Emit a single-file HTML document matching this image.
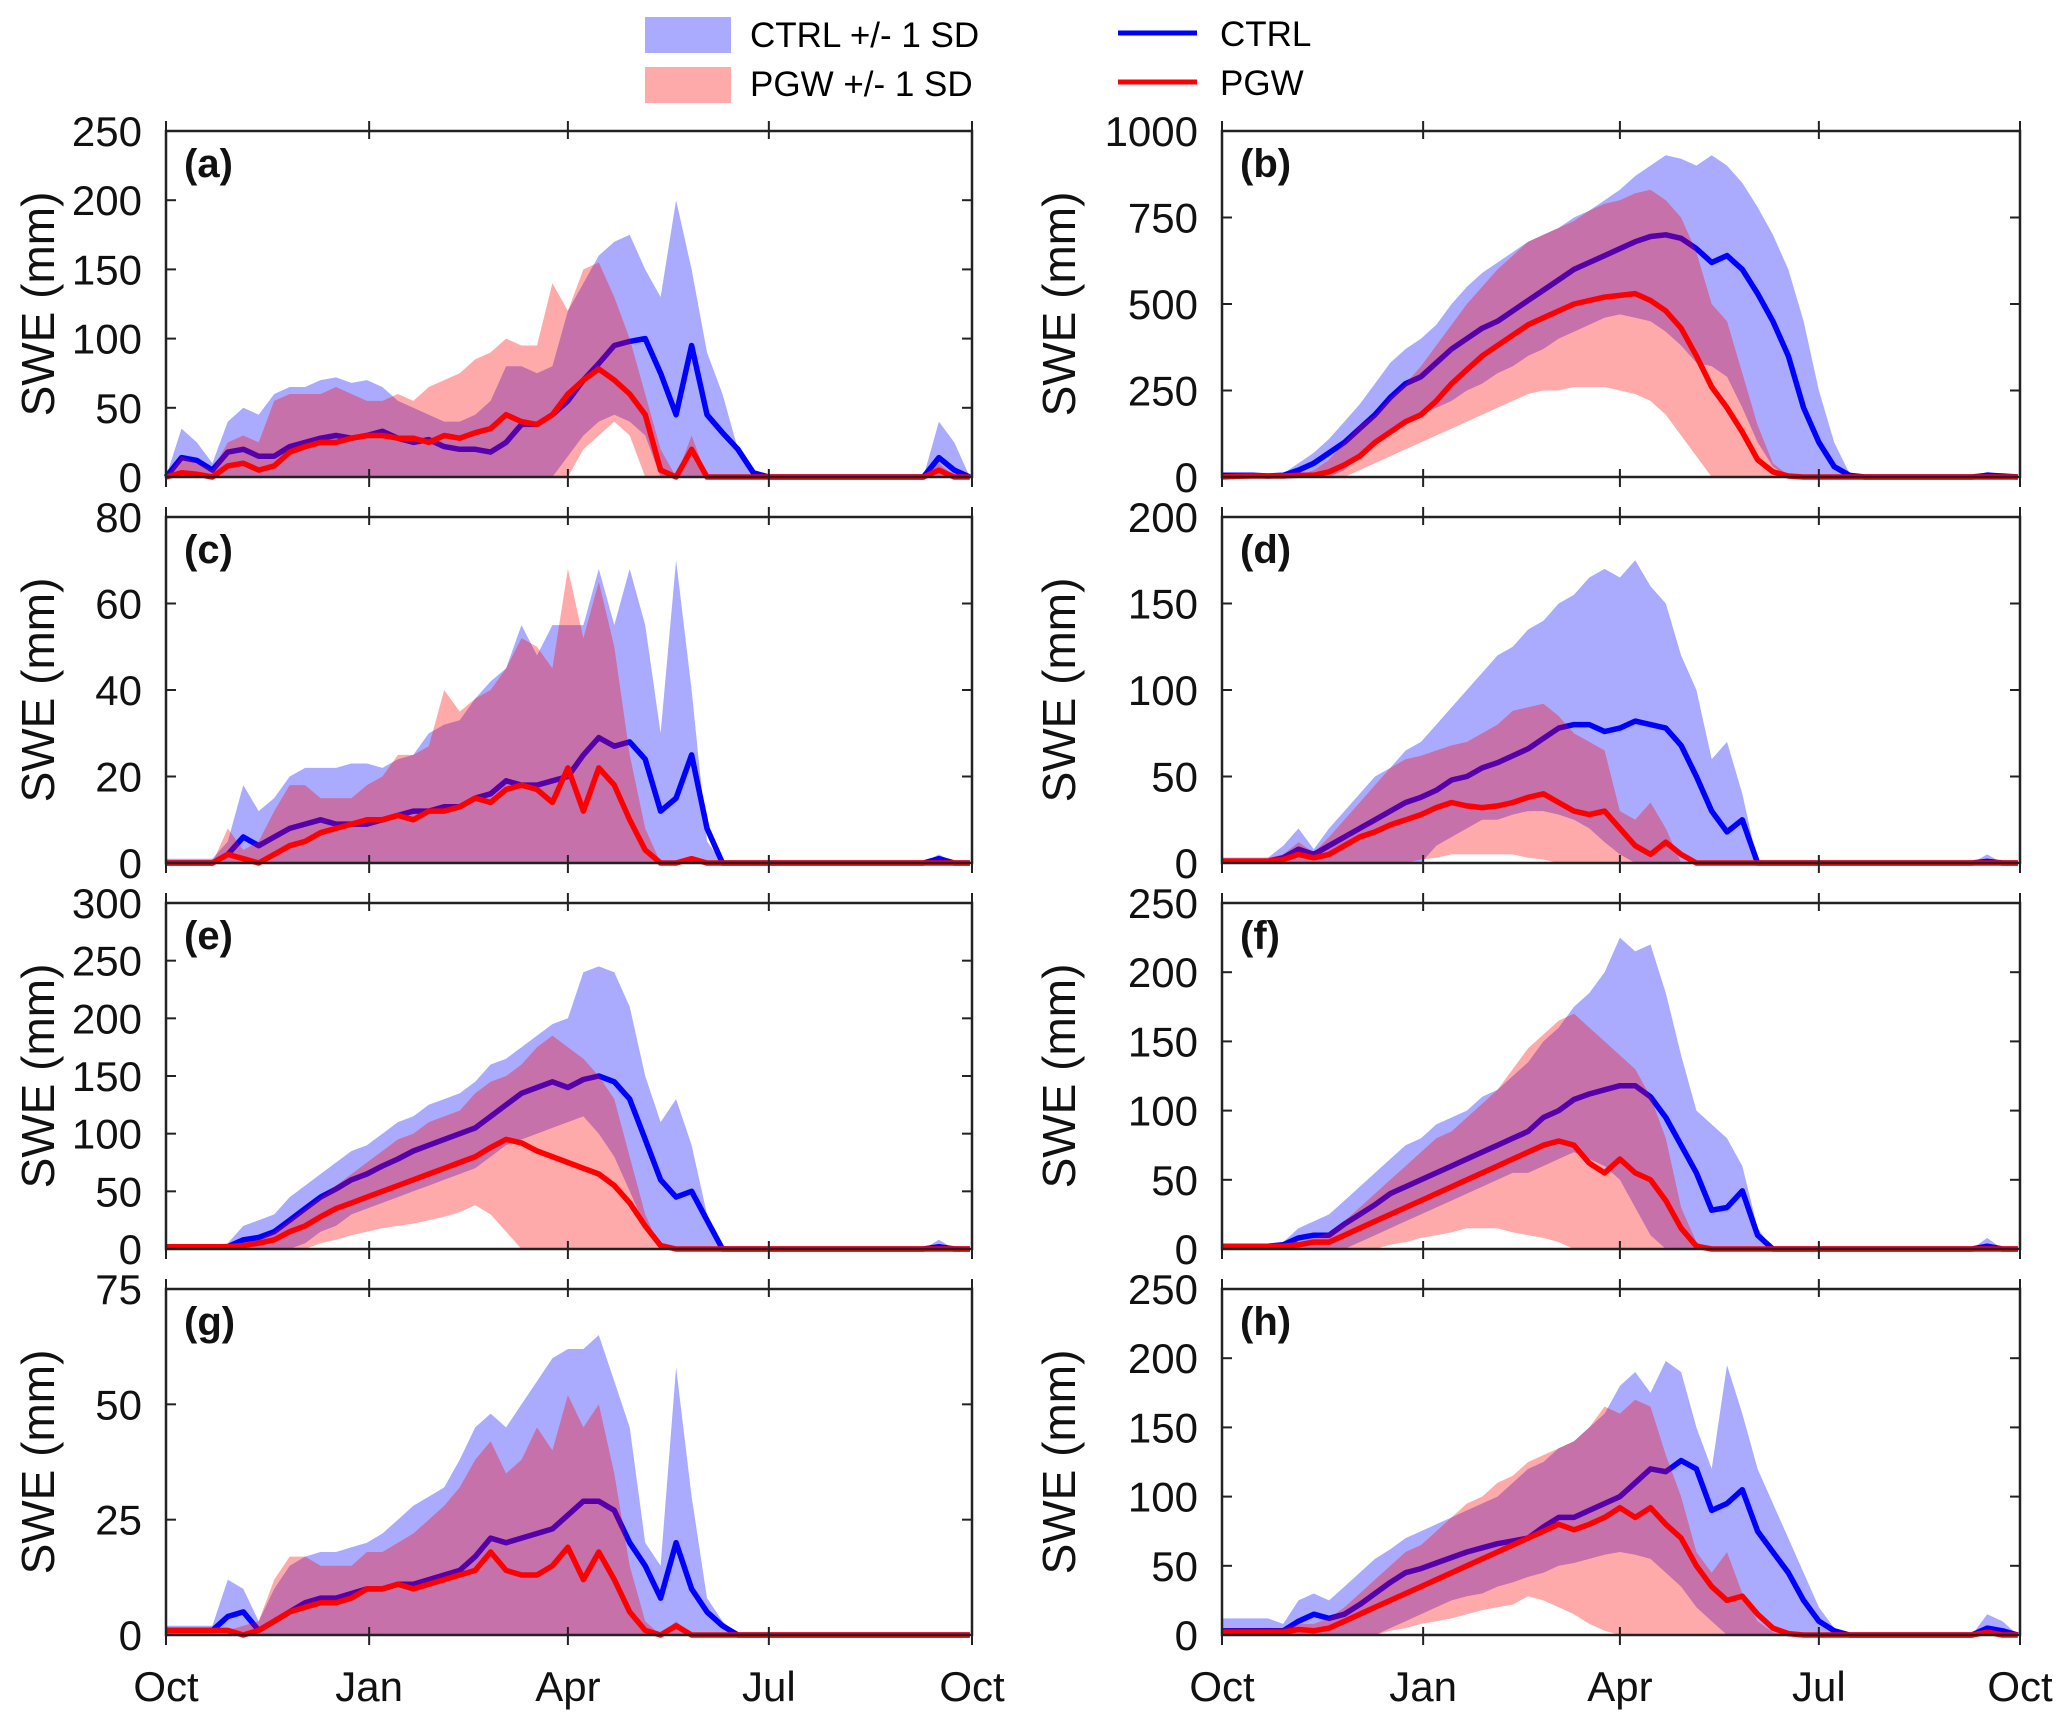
<!DOCTYPE html>
<html><head><meta charset="utf-8"><title>SWE CTRL vs PGW</title>
<style>
html,body{margin:0;padding:0;background:#fff;}
svg{display:block;font-family:"Liberation Sans",Arial,sans-serif;}
</style></head>
<body>
<svg id="chart" width="2067" height="1727" viewBox="0 0 2067 1727" xmlns="http://www.w3.org/2000/svg">
<g>
<rect x="645" y="17" width="86" height="36" fill="#0000ff" fill-opacity="0.333"/>
<text x="750" y="47" font-size="35">CTRL +/- 1 SD</text>
<rect x="645" y="67" width="86" height="36" fill="#ff0000" fill-opacity="0.333"/>
<text x="750" y="96" font-size="35">PGW +/- 1 SD</text>
<line x1="1118" y1="33" x2="1197" y2="33" stroke="#0000ff" stroke-width="5"/>
<text x="1220" y="46" font-size="35">CTRL</text>
<line x1="1118" y1="82" x2="1197" y2="82" stroke="#ff0000" stroke-width="5"/>
<text x="1220" y="95" font-size="35">PGW</text>
</g>
</svg>
<script>
// day-of-water-year for each sample (weekly)
const days = [0,7,14,21,28,35,42,49,56,63,70,77,84,91,98,105,112,119,126,133,140,147,154,161,168,175,182,189,196,203,210,217,224,231,238,245,252,259,266,273,280,287,294,301,308,315,322,329,336,343,350,357,364];
const monthLabels = ["Oct","Jan","Apr","Jul","Oct"];
const monthDays = [0,92,182,273,365];
const panelLabels = ["(a)","(b)","(c)","(d)","(e)","(f)","(g)","(h)"];
const yTicksA = [0,50,100,150,200,250];
const yTicksB = [0,250,500,750,1000];
const yTicksC = [0,20,40,60,80];
const yTicksD = [0,50,100,150,200];
const yTicksE = [0,50,100,150,200,250,300];
const yTicksF = [0,50,100,150,200,250];
const yTicksG = [0,25,50,75];
const yTicksH = [0,50,100,150,200,250];

// (a)
const ctrlMeanA = [0,14,12,5,18,20,15,15,22,25,28,30,28,30,33,28,25,27,22,20,20,18,25,38,38,45,55,70,82,95,98,100,75,45,95,45,32,20,3,0,0,0,0,0,0,0,0,0,0,0,14,5,0];
const ctrlUpA = [0,35,25,10,40,50,45,60,65,65,70,72,68,70,65,55,50,45,40,40,45,55,80,80,75,80,120,140,160,170,175,150,130,200,150,90,60,20,0,0,0,0,0,0,0,0,0,0,0,0,40,25,0];
const ctrlLoA = [0,0,0,0,0,0,0,0,0,0,0,0,0,0,0,0,0,0,0,0,0,0,0,0,0,0,15,30,40,45,40,30,0,0,0,0,0,0,0,0,0,0,0,0,0,0,0,0,0,0,0,0,0];
const pgwMeanA = [0,3,2,0,8,10,5,8,18,22,25,25,28,30,30,28,28,25,30,28,32,35,45,40,38,45,60,70,78,70,60,45,5,0,20,0,0,0,0,0,0,0,0,0,0,0,0,0,0,0,5,0,0];
const pgwUpA = [0,15,10,5,25,30,25,55,60,60,60,65,60,55,55,60,55,65,70,75,85,90,100,95,95,140,120,150,155,130,100,60,20,0,30,0,0,0,0,0,0,0,0,0,0,0,0,0,0,0,10,0,0];
const pgwLoA = [0,0,0,0,0,0,0,0,0,0,0,0,0,0,0,0,0,0,0,0,0,0,0,0,0,0,0,20,30,40,30,0,0,0,0,0,0,0,0,0,0,0,0,0,0,0,0,0,0,0,0,0,0];
// (b)
const ctrlMeanB = [5,5,5,3,5,20,40,70,100,140,180,230,270,290,330,370,400,430,450,480,510,540,570,600,620,640,660,680,695,700,690,660,620,640,600,530,450,350,200,100,30,5,0,0,0,0,0,0,0,0,5,3,0];
const ctrlUpB = [10,10,10,10,10,40,70,110,160,210,270,330,370,400,440,500,550,590,620,650,680,700,720,750,770,800,830,870,900,930,920,900,930,900,850,780,700,600,450,250,100,10,0,0,0,0,0,0,0,0,15,8,0];
const ctrlLoB = [0,0,0,0,0,0,0,0,20,60,100,130,150,180,200,220,250,270,300,320,350,370,400,420,440,460,470,460,450,420,380,330,320,290,200,100,30,0,0,0,0,0,0,0,0,0,0,0,0,0,0,0,0];
const pgwMeanB = [0,2,3,3,3,5,5,15,35,60,100,130,160,180,220,270,310,350,380,410,440,460,480,500,510,520,525,530,510,480,430,350,260,200,130,50,15,3,0,0,0,0,0,0,0,0,0,0,0,0,0,0,0];
const pgwUpB = [5,5,5,5,5,5,20,50,100,150,180,230,270,320,380,440,500,550,600,640,680,700,720,740,770,790,800,820,830,800,750,650,500,450,300,150,40,5,0,0,0,0,0,0,0,0,0,0,0,0,0,0,0];
const pgwLoB = [0,0,0,0,0,0,0,0,0,20,40,60,80,100,120,140,160,180,200,220,240,250,250,260,260,260,250,240,220,180,120,60,0,0,0,0,0,0,0,0,0,0,0,0,0,0,0,0,0,0,0,0,0];
// (c)
const ctrlMeanC = [0,0,0,0,2,6,4,6,8,9,10,9,9,9,10,11,12,12,13,13,15,16,19,18,18,19,20,25,29,27,28,24,12,15,25,8,0,0,0,0,0,0,0,0,0,0,0,0,0,0,1,0,0];
const ctrlUpC = [1,1,1,1,5,18,12,15,20,22,22,22,23,23,22,24,25,30,32,33,38,42,45,55,48,55,55,55,68,55,68,55,30,70,40,5,0,0,0,0,0,0,0,0,0,0,0,0,0,0,2,0,0];
const ctrlLoC = [0,0,0,0,0,0,0,0,0,0,0,0,0,0,0,0,0,0,0,0,0,0,0,0,0,0,0,0,0,0,0,0,0,0,0,0,0,0,0,0,0,0,0,0,0,0,0,0,0,0,0,0,0];
const pgwMeanC = [0,0,0,0,2,1,0,2,4,5,7,8,9,10,10,11,10,12,12,13,15,14,17,18,17,14,22,12,22,18,10,3,0,0,1,0,0,0,0,0,0,0,0,0,0,0,0,0,0,0,0,0,0];
const pgwUpC = [0,0,0,0,8,3,5,12,18,18,15,15,15,18,20,25,25,27,40,35,38,40,45,52,50,45,68,52,65,50,25,8,0,0,1,0,0,0,0,0,0,0,0,0,0,0,0,0,0,0,0,0,0];
const pgwLoC = [0,0,0,0,0,0,0,0,0,0,0,0,0,0,0,0,0,0,0,0,0,0,0,0,0,0,0,0,0,0,0,0,0,0,0,0,0,0,0,0,0,0,0,0,0,0,0,0,0,0,0,0,0];
// (d)
const ctrlMeanD = [1,1,1,1,3,8,5,10,15,20,25,30,35,38,42,48,50,55,58,62,66,72,78,80,80,76,78,82,80,78,68,50,30,18,25,0,0,0,0,0,0,0,0,0,0,0,0,0,0,0,1,0,0];
const ctrlUpD = [3,3,3,3,10,20,8,20,30,40,50,55,65,70,80,90,100,110,120,125,135,140,150,155,165,170,165,175,160,150,120,100,60,70,40,0,0,0,0,0,0,0,0,0,0,0,0,0,0,0,5,0,0];
const ctrlLoD = [0,0,0,0,0,0,0,0,0,0,0,0,0,0,10,15,20,25,25,28,30,30,28,25,20,12,5,0,0,0,0,0,0,0,0,0,0,0,0,0,0,0,0,0,0,0,0,0,0,0,0,0,0];
const pgwMeanD = [1,1,1,1,2,5,3,5,10,15,18,22,25,28,32,35,33,32,33,35,38,40,35,30,28,30,20,10,5,12,5,0,0,0,0,0,0,0,0,0,0,0,0,0,0,0,0,0,0,0,0,0,0];
const pgwUpD = [3,3,3,3,5,12,6,15,25,35,45,55,60,62,65,68,70,75,80,88,90,92,85,75,70,65,30,25,35,20,0,0,0,0,0,0,0,0,0,0,0,0,0,0,0,0,0,0,0,0,0,0,0];
const pgwLoD = [0,0,0,0,0,0,0,0,0,0,0,0,0,2,3,5,5,5,5,5,3,2,0,0,0,0,0,0,0,0,0,0,0,0,0,0,0,0,0,0,0,0,0,0,0,0,0,0,0,0,0,0,0];
// (e)
const ctrlMeanE = [2,2,2,2,2,8,10,15,25,35,45,52,60,65,72,78,85,90,95,100,105,115,125,135,140,145,140,147,150,145,130,95,60,45,50,25,0,0,0,0,0,0,0,0,0,0,0,0,0,0,2,0,0];
const ctrlUpE = [3,3,3,3,5,20,25,30,45,55,65,75,85,90,100,110,115,125,130,135,145,160,165,175,185,195,200,240,245,240,210,150,110,130,90,30,0,0,0,0,0,0,0,0,0,0,0,0,0,0,8,0,0];
const ctrlLoE = [0,0,0,0,0,0,0,0,0,5,15,20,30,35,40,45,50,55,60,65,70,80,90,95,100,105,110,115,100,80,50,20,0,0,0,0,0,0,0,0,0,0,0,0,0,0,0,0,0,0,0,0,0];
const pgwMeanE = [2,2,2,2,2,3,5,8,15,20,28,35,40,45,50,55,60,65,70,75,80,88,95,92,85,80,75,70,65,55,40,20,3,0,0,0,0,0,0,0,0,0,0,0,0,0,0,0,0,0,0,0,0];
const pgwUpE = [3,3,3,3,3,5,8,15,25,35,45,55,65,75,85,95,100,110,115,120,135,145,150,160,175,185,175,165,150,130,80,30,0,0,0,0,0,0,0,0,0,0,0,0,0,0,0,0,0,0,0,0,0];
const pgwLoE = [0,0,0,0,0,0,0,0,0,0,5,8,12,15,18,20,22,25,28,32,38,30,15,0,0,0,0,0,0,0,0,0,0,0,0,0,0,0,0,0,0,0,0,0,0,0,0,0,0,0,0,0,0];
// (f)
const ctrlMeanF = [2,2,2,2,3,8,10,10,18,25,32,40,45,50,55,60,65,70,75,80,85,95,100,108,112,115,118,118,110,95,75,55,28,30,42,10,0,0,0,0,0,0,0,0,0,0,0,0,0,0,2,0,0];
const ctrlUpF = [3,3,3,3,5,15,20,25,35,45,55,65,75,80,90,95,100,110,115,125,135,150,160,175,185,200,225,215,220,185,140,100,90,80,60,15,0,0,0,0,0,0,0,0,0,0,0,0,0,0,8,0,0];
const ctrlLoF = [0,0,0,0,0,0,0,0,0,5,10,15,20,25,30,35,40,45,50,55,55,60,65,70,65,60,50,30,10,0,0,0,0,0,0,0,0,0,0,0,0,0,0,0,0,0,0,0,0,0,0,0,0];
const pgwMeanF = [2,2,2,2,2,3,5,5,10,15,20,25,30,35,40,45,50,55,60,65,70,75,78,75,62,55,65,55,50,35,15,2,0,0,0,0,0,0,0,0,0,0,0,0,0,0,0,0,0,0,0,0,0];
const pgwUpF = [3,3,3,3,3,5,8,12,20,30,40,50,60,70,80,85,95,105,115,130,145,155,165,170,160,150,140,130,110,80,30,5,0,0,0,0,0,0,0,0,0,0,0,0,0,0,0,0,0,0,0,0,0];
const pgwLoF = [0,0,0,0,0,0,0,0,0,0,0,3,5,8,10,12,15,15,15,12,10,8,5,0,0,0,0,0,0,0,0,0,0,0,0,0,0,0,0,0,0,0,0,0,0,0,0,0,0,0,0,0,0];
// (g)
const ctrlMeanG = [1,1,1,1,4,5,1,3,5,7,8,8,9,10,10,11,11,12,13,14,17,21,20,21,22,23,26,29,29,27,20,15,8,20,10,5,2,0,0,0,0,0,0,0,0,0,0,0,0,0,0,0,0];
const ctrlUpG = [2,2,2,2,12,10,3,10,15,17,18,18,19,20,22,25,28,30,32,38,45,48,45,50,55,60,62,62,65,55,45,20,15,58,30,8,3,0,0,0,0,0,0,0,0,0,0,0,0,0,0,0,0];
const ctrlLoG = [0,0,0,0,0,0,0,0,0,0,0,0,0,0,0,0,0,0,0,0,0,0,0,0,0,0,0,0,0,0,0,0,0,0,0,0,0,0,0,0,0,0,0,0,0,0,0,0,0,0,0,0,0];
const pgwMeanG = [1,1,1,1,1,0,1,3,5,6,7,7,8,10,10,11,10,11,12,13,14,18,14,13,13,15,19,12,18,12,5,1,0,2,0,0,0,0,0,0,0,0,0,0,0,0,0,0,0,0,0,0,0];
const pgwUpG = [1,1,1,1,1,2,3,12,17,17,15,15,15,18,18,20,22,25,28,32,38,42,35,38,45,40,52,45,50,35,15,3,0,3,0,0,0,0,0,0,0,0,0,0,0,0,0,0,0,0,0,0,0];
const pgwLoG = [0,0,0,0,0,0,0,0,0,0,0,0,0,0,0,0,0,0,0,0,0,0,0,0,0,0,0,0,0,0,0,0,0,0,0,0,0,0,0,0,0,0,0,0,0,0,0,0,0,0,0,0,0];
// (h)
const ctrlMeanH = [3,3,3,3,3,10,15,12,15,22,30,38,45,48,52,56,60,63,66,68,70,78,85,85,90,95,100,110,120,118,126,120,90,95,105,75,60,45,25,10,3,0,0,0,0,0,0,0,0,0,5,3,0];
const ctrlUpH = [12,12,12,12,8,25,30,25,35,45,55,62,70,75,80,85,90,95,100,110,120,125,135,140,150,160,180,190,175,198,190,150,120,195,160,120,95,70,45,20,5,0,0,0,0,0,0,0,0,0,15,10,0];
const ctrlLoH = [0,0,0,0,0,0,0,0,0,0,0,5,10,15,20,25,28,30,35,38,42,45,50,52,55,58,60,58,55,45,35,20,10,0,0,0,0,0,0,0,0,0,0,0,0,0,0,0,0,0,0,0,0];
const pgwMeanH = [2,2,2,2,2,4,3,5,10,15,20,25,30,35,40,45,50,55,60,65,70,75,80,76,80,85,92,85,92,80,70,50,35,25,28,15,5,1,0,0,0,0,0,0,0,0,0,0,0,0,2,0,0];
const pgwUpH = [5,5,5,5,5,8,8,12,20,30,40,50,60,65,75,85,95,100,110,115,125,130,135,140,150,165,160,170,165,130,100,60,45,60,30,10,2,0,0,0,0,0,0,0,0,0,0,0,0,0,0,0,0];
const pgwLoH = [0,0,0,0,0,0,0,0,0,0,0,3,5,8,10,12,15,18,20,22,28,25,20,15,8,3,0,0,0,0,0,0,0,0,0,0,0,0,0,0,0,0,0,0,0,0,0,0,0,0,0,0,0];

const panels = [
 {ticks:yTicksA, cm:ctrlMeanA, cu:ctrlUpA, cl:ctrlLoA, pm:pgwMeanA, pu:pgwUpA, pl:pgwLoA},
 {ticks:yTicksB, cm:ctrlMeanB, cu:ctrlUpB, cl:ctrlLoB, pm:pgwMeanB, pu:pgwUpB, pl:pgwLoB},
 {ticks:yTicksC, cm:ctrlMeanC, cu:ctrlUpC, cl:ctrlLoC, pm:pgwMeanC, pu:pgwUpC, pl:pgwLoC},
 {ticks:yTicksD, cm:ctrlMeanD, cu:ctrlUpD, cl:ctrlLoD, pm:pgwMeanD, pu:pgwUpD, pl:pgwLoD},
 {ticks:yTicksE, cm:ctrlMeanE, cu:ctrlUpE, cl:ctrlLoE, pm:pgwMeanE, pu:pgwUpE, pl:pgwLoE},
 {ticks:yTicksF, cm:ctrlMeanF, cu:ctrlUpF, cl:ctrlLoF, pm:pgwMeanF, pu:pgwUpF, pl:pgwLoF},
 {ticks:yTicksG, cm:ctrlMeanG, cu:ctrlUpG, cl:ctrlLoG, pm:pgwMeanG, pu:pgwUpG, pl:pgwLoG},
 {ticks:yTicksH, cm:ctrlMeanH, cu:ctrlUpH, cl:ctrlLoH, pm:pgwMeanH, pu:pgwUpH, pl:pgwLoH}
];

const NS = "http://www.w3.org/2000/svg";
const svg = document.getElementById("chart");
function mk(tag, attrs, parent){
  const e = document.createElementNS(NS, tag);
  for (const k in attrs) e.setAttribute(k, attrs[k]);
  parent.appendChild(e);
  return e;
}
const colX = [[166,972],[1222,2020]];
const rowY = [131,517,903,1289];
const PH = 346;

panels.forEach((p, idx) => {
  const col = idx % 2, row = Math.floor(idx / 2);
  const x0 = colX[col][0], x1 = colX[col][1];
  const y0 = rowY[row], y1 = y0 + PH;
  const ymax = p.ticks[p.ticks.length - 1];
  const xs = d => x0 + (d / 365) * (x1 - x0);
  const ys = v => y1 - (v / ymax) * (y1 - y0);
  const g = mk("g", {}, svg);
  
  

  function band(up, lo, color, name){
    let d = "M" + days.map((dd, i) => xs(dd).toFixed(1) + "," + ys(up[i]).toFixed(1)).join("L");
    for (let i = days.length - 1; i >= 0; i--) d += "L" + xs(days[i]).toFixed(1) + "," + ys(lo[i]).toFixed(1);
    d += "Z";
    const e = mk("path", {d: d, fill: color, "fill-opacity": "0.333", stroke: "none"}, g);
    
    
  }
  function line(m, color, name){
    const d = "M" + days.map((dd, i) => xs(dd).toFixed(1) + "," + ys(m[i]).toFixed(1)).join("L");
    const e = mk("path", {d: d, fill: "none", stroke: color, "stroke-width": "5.5", "stroke-linejoin": "round"}, g);
    
    
  }
  band(p.cu, p.cl, "#0000ff", "ctrl-sd-band");
  line(p.cm, "#0000ff", "ctrl-mean-line");
  band(p.pu, p.pl, "#ff0000", "pgw-sd-band");
  line(p.pm, "#ff0000", "pgw-mean-line");

  const box = mk("rect", {x: x0, y: y0, width: x1 - x0, height: PH, fill: "none", stroke: "#222", "stroke-width": "2.5"}, g);
  
  

  p.ticks.forEach(t => {
    const y = ys(t);
    const tl = mk("line", {x1: x0, y1: y, x2: x0 + 10, y2: y, stroke: "#222", "stroke-width": "2"}, g);
    
    
    const tr = mk("line", {x1: x1, y1: y, x2: x1 - 10, y2: y, stroke: "#222", "stroke-width": "2"}, g);
    
    
    const lab = mk("text", {x: x0 - 24, y: y + 15, "font-size": "42", "text-anchor": "end", fill: "#111"}, g);
    lab.textContent = t;
    
    
  });
  monthDays.forEach((md, k) => {
    const x = xs(md);
    const tb = mk("line", {x1: x, y1: y1 + 10, x2: x, y2: y1 - 8, stroke: "#222", "stroke-width": "2"}, g);
    
    
    const tt = mk("line", {x1: x, y1: y0 - 10, x2: x, y2: y0 + 8, stroke: "#222", "stroke-width": "2"}, g);
    
    
    if (row === 3) {
      const xl = mk("text", {x: x, y: y1 + 66, "font-size": "42", "text-anchor": "middle", fill: "#111"}, g);
      xl.textContent = monthLabels[k];
      
      
    }
  });
  const pl = mk("text", {x: x0 + 18, y: y0 + 46, "font-size": "40", "font-weight": "bold", fill: "#111"}, g);
  pl.textContent = panelLabels[idx];
  
  
  const cx = col === 0 ? 54 : 1075;
  const cy = (y0 + y1) / 2;
  const yt = mk("text", {x: cx, y: cy, "font-size": "46", "text-anchor": "middle", transform: "rotate(-90 " + cx + " " + cy + ")", fill: "#111"}, g);
  yt.textContent = "SWE (mm)";
  
  
});
</script>
</body></html>
